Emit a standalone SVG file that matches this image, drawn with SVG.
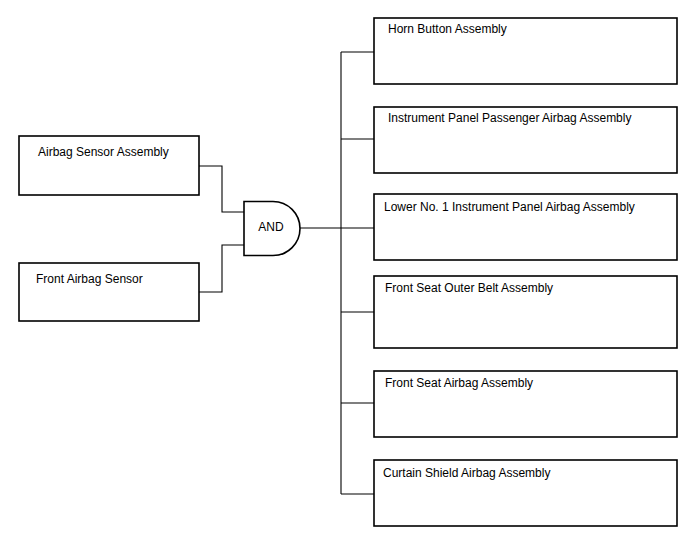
<svg xmlns="http://www.w3.org/2000/svg" width="688" height="560" viewBox="0 0 688 560">
<style>
.box{fill:#fff;stroke:#000;stroke-width:1.6}
.gate{fill:#fff;stroke:#000;stroke-width:1.6}
.wire{fill:none;stroke:#000;stroke-width:1.1}
text{font-family:"Liberation Sans",Arial,sans-serif;font-size:12px;fill:#000}
</style>
<rect width="688" height="560" fill="#fff"/>
<g id="connectors">
<polyline class="wire" points="199,166 222,166 222,212 244,212"/>
<polyline class="wire" points="199,292 222,292 222,245 244,245"/>
<line class="wire" x1="300" y1="228" x2="341" y2="228"/>
<line class="wire" x1="341" y1="52" x2="341" y2="494"/>
<line class="wire" x1="341" y1="52" x2="374" y2="52"/>
<line class="wire" x1="341" y1="139" x2="374" y2="139"/>
<line class="wire" x1="341" y1="228" x2="374" y2="228"/>
<line class="wire" x1="341" y1="312" x2="374" y2="312"/>
<line class="wire" x1="341" y1="403" x2="374" y2="403"/>
<line class="wire" x1="341" y1="494" x2="374" y2="494"/>
</g>
<g id="airbag-sensor-assembly">
<rect class="box" x="19" y="136" width="180" height="59"/>
<text x="38" y="156">Airbag Sensor Assembly</text>
</g>
<g id="front-airbag-sensor">
<rect class="box" x="19" y="263" width="180" height="58"/>
<text x="36" y="283">Front Airbag Sensor</text>
</g>
<g id="and-gate">
<path class="gate" d="M244,201.5 H273 A27,27 0 0 1 273,255.5 H244 Z"/>
<text x="271" y="231" text-anchor="middle">AND</text>
</g>
<g id="horn-button-assembly">
<rect class="box" x="374" y="18" width="303" height="66"/>
<text x="388" y="33">Horn Button Assembly</text>
</g>
<g id="instrument-panel-passenger-airbag-assembly">
<rect class="box" x="374" y="107" width="303" height="66"/>
<text x="388" y="122">Instrument Panel Passenger Airbag Assembly</text>
</g>
<g id="lower-no1-instrument-panel-airbag-assembly">
<rect class="box" x="374" y="194" width="303" height="66"/>
<text x="384" y="211">Lower No. 1 Instrument Panel Airbag Assembly</text>
</g>
<g id="front-seat-outer-belt-assembly">
<rect class="box" x="374" y="276" width="303" height="72"/>
<text x="385" y="292">Front Seat Outer Belt Assembly</text>
</g>
<g id="front-seat-airbag-assembly">
<rect class="box" x="374" y="371" width="303" height="66"/>
<text x="385" y="387">Front Seat Airbag Assembly</text>
</g>
<g id="curtain-shield-airbag-assembly">
<rect class="box" x="374" y="460" width="303" height="66"/>
<text x="383" y="477">Curtain Shield Airbag Assembly</text>
</g>
</svg>
